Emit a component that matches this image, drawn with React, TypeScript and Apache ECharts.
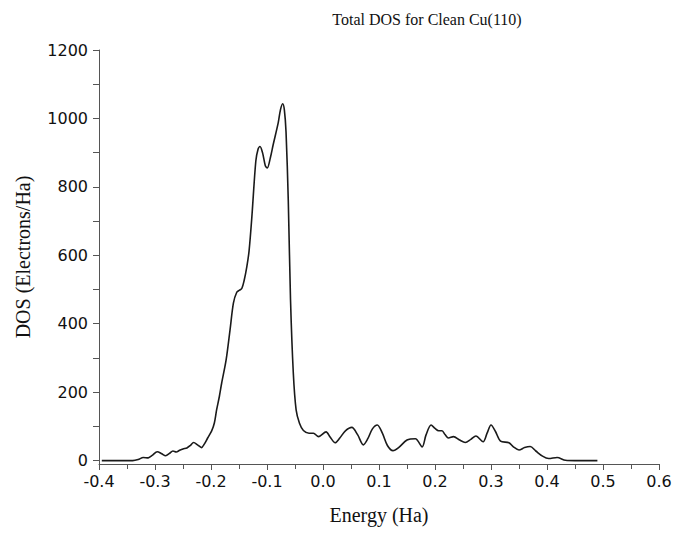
import React, { useEffect, useRef } from "react";
import * as echarts from "echarts";

const energy = [
  -0.395, -0.36, -0.34, -0.33, -0.321, -0.312, -0.305, -0.296, -0.288, -0.281,
  -0.274, -0.268, -0.262, -0.256, -0.25, -0.243, -0.237, -0.231, -0.224, -0.217,
  -0.212, -0.206, -0.199, -0.194, -0.19, -0.185, -0.181, -0.173, -0.166, -0.16,
  -0.154, -0.149, -0.145, -0.141, -0.136, -0.132, -0.127, -0.12, -0.116, -0.1125,
  -0.108, -0.103, -0.0995, -0.094, -0.089, -0.08, -0.076, -0.072, -0.069, -0.066,
  -0.062, -0.058, -0.053, -0.048, -0.042, -0.035, -0.025, -0.017, -0.008, 0.0055,
  0.013, 0.0217, 0.03, 0.04, 0.0515, 0.062, 0.072, 0.08, 0.088, 0.097,
  0.106, 0.115, 0.125, 0.135, 0.15, 0.165, 0.177, 0.184, 0.193, 0.2,
  0.2065, 0.2125, 0.218, 0.224, 0.233, 0.244, 0.254, 0.264, 0.273, 0.286,
  0.293, 0.3, 0.308, 0.317, 0.332, 0.34, 0.35, 0.36, 0.37, 0.38,
  0.392, 0.403, 0.418, 0.433, 0.45, 0.49,
];

const dos = [
  0, 0, 0, 3, 9, 8, 15, 26, 20, 14,
  21, 28, 25, 30, 34, 37, 44, 53, 46, 38,
  48, 66, 86, 110, 148, 188, 226, 294, 382, 460,
  492, 498, 503, 525, 567, 613, 713, 875, 910, 918,
  900, 862, 855, 885, 923, 987, 1025, 1043, 1025, 960,
  760, 470, 255, 148, 109, 88, 80, 80, 70, 84,
  68, 52, 66, 87, 97, 75, 46, 64, 92, 104,
  80, 44, 29, 38, 60, 64, 40, 75, 104, 94,
  87, 87, 76, 66, 70, 60, 53, 62, 72, 55,
  80, 104, 85, 57, 52, 40, 31, 38, 41, 28,
  13, 6, 9, 1, 0, 0,
];

const yLabelValues = [0, 200, 400, 600, 800, 1000, 1200];
const yTickValues = [0, 100, 200, 300, 400, 500, 600, 700, 800, 900, 1000, 1100, 1200];

const titleText = "Total DOS for Clean Cu(110)";
const xName = "Energy (Ha)";
const yName = "DOS (Electrons/Ha)";

export default function App() {
  const ref = useRef<HTMLDivElement>(null);
  useEffect(() => {
    if (!ref.current) return;
    const chart = echarts.init(ref.current, null, { renderer: "svg" });
    const axisColor = "#555";
    chart.setOption({
      animation: false,
      backgroundColor: "#fff",
      title: {
        text: titleText,
        left: 422,
        top: 6,
        textAlign: "center",
        textStyle: {
          fontFamily: "Liberation Serif",
          fontSize: 16,
          fontWeight: "normal",
          color: "#111",
        },
      },
      grid: { left: 99, right: 16, top: 50, bottom: 69 },
      xAxis: {
        type: "value",
        min: -0.4,
        max: 0.6,
        interval: 0.1,
        name: xName,
        nameLocation: "middle",
        nameGap: 41,
        nameTextStyle: { fontFamily: "Liberation Serif", fontSize: 20, color: "#111" },
        axisLine: { show: true, onZero: false, lineStyle: { color: axisColor, width: 1 } },
        axisTick: { show: true, length: 6, lineStyle: { color: axisColor } },
        minorTick: { show: true, splitNumber: 2, length: 5, lineStyle: { color: axisColor } },
        splitLine: { show: false },
        minorSplitLine: { show: false },
        axisLabel: {
          margin: 9,
          fontFamily: "DejaVu Sans",
          fontSize: 16,
          color: "#111",
          formatter: (v: number) => v.toFixed(1),
        },
      },
      yAxis: {
        type: "value",
        min: -10,
        max: 1200,
        name: yName,
        nameLocation: "middle",
        nameGap: 66,
        nameTextStyle: { fontFamily: "Liberation Serif", fontSize: 20, color: "#111" },
        axisLine: { show: true, onZero: false, lineStyle: { color: axisColor, width: 1 } },
        axisTick: { show: true, length: 6, customValues: yTickValues, lineStyle: { color: axisColor } },
        splitLine: { show: false },
        axisLabel: {
          margin: 11,
          customValues: yLabelValues,
          fontFamily: "DejaVu Sans",
          fontSize: 16,
          color: "#111",
          formatter: (v: number) => String(v),
        },
      },
      series: [
        {
          type: "line",
          data: energy.map((e, i) => [e, dos[i]]),
          smooth: 0.3,
          showSymbol: false,
          lineStyle: { color: "#1a1a1a", width: 1.6 },
        },
      ],
    });
    return () => chart.dispose();
  }, []);
  return (
    <div
      ref={ref}
      style={{ position: "absolute", left: 0, top: 0, width: 675, height: 533 }}
    />
  );
}
